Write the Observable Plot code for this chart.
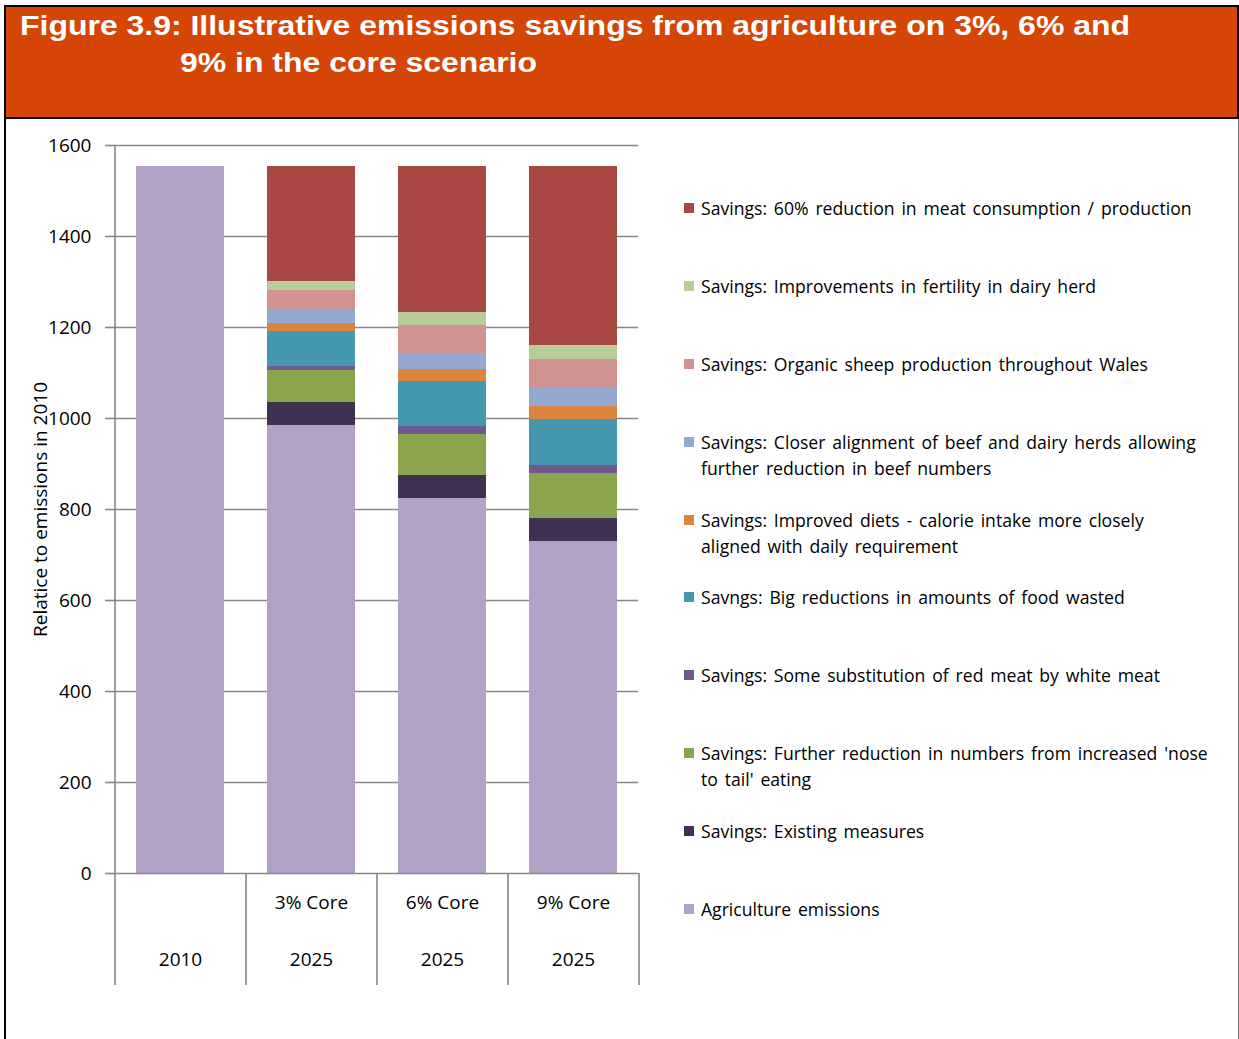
<!DOCTYPE html>
<html><head><meta charset="utf-8">
<script src="https://cdn.jsdelivr.net/npm/d3@7"></script>
<script src="https://cdn.jsdelivr.net/npm/@observablehq/plot@0.6"></script>
<style>
html,body{margin:0;padding:0;background:#fff;}
body{width:1239px;height:1039px;position:relative;overflow:hidden;font-family:"Open Sans",Lato,sans-serif;}
#box{position:absolute;left:4px;top:5px;width:1235px;height:1040px;border-left:2px solid #000;border-right:1px solid #777;box-sizing:border-box;}
#header{position:absolute;left:4px;top:5px;width:1235px;height:114px;background:#D54505;border:2px solid #000;box-sizing:border-box;}
.t{position:absolute;color:#fff;font:bold 28px/28px "Liberation Sans",Arial,sans-serif;white-space:nowrap;transform-origin:0 0;}
#chart{position:absolute;left:0;top:118px;}
#legend{position:absolute;left:684px;top:195px;}
.item{position:relative;height:77.9px;}
.sw{position:absolute;left:0;top:8px;width:10px;height:10px;}
.lab{position:absolute;left:17px;top:0;font-size:17.6px;line-height:26px;word-spacing:2.3px;white-space:pre;color:#000;}
</style>
</head><body>
<div id="box"></div>
<div id="header"></div>
<div class="t" id="t1" style="left:20px;top:12px"></div>
<div class="t" id="t2" style="left:180px;top:49px"></div>
<div id="chart"></div>
<div id="legend"></div>
<script>
const titleLines = ["Figure 3.9: Illustrative emissions savings from agriculture on 3%, 6% and", "9% in the core scenario"];
const yTitle = "Relatice to emissions in 2010";
const categories = ["2010", "3% Core", "6% Core", "9% Core"];
const scenarioLabels = ["", "3% Core", "6% Core", "9% Core"];
const yearLabels = ["2010", "2025", "2025", "2025"];
const yTicks = [0, 200, 400, 600, 800, 1000, 1200, 1400, 1600];
// series, bottom of stack first
const seriesNames = [
  "Agriculture emissions",
  "Savings: Existing measures",
  "Savings: Further reduction in numbers from increased 'nose\nto tail' eating",
  "Savings: Some substitution of red meat by white meat",
  "Savngs: Big reductions in amounts of food wasted",
  "Savings: Improved diets - calorie intake more closely\naligned with daily requirement",
  "Savings: Closer alignment of beef and dairy herds allowing\nfurther reduction in beef numbers",
  "Savings: Organic sheep production throughout Wales",
  "Savings: Improvements in fertility in dairy herd",
  "Savings: 60% reduction in meat consumption / production"
];
const seriesColors = ["#B2A2C7", "#403152", "#8AA54E", "#71588F", "#4398AF", "#DB843D", "#95A9D0", "#D19392", "#B9CD96", "#A94744"];
const agriculture = [1554, 985, 824, 730];
const existing    = [0, 50, 50, 50];
const noseToTail  = [0, 70, 90, 100];
const substitution= [0, 9, 18, 16];
const foodWaste   = [0, 77, 99, 101];
const diets       = [0, 18, 26, 29];
const beefDairy   = [0, 31, 34, 40];
const sheep       = [0, 42, 63, 63];
const fertility   = [0, 19, 29, 31];
const meat        = [0, 253, 321, 394];
const seriesValues = [agriculture, existing, noseToTail, substitution, foodWaste, diets, beefDairy, sheep, fertility, meat];

// title
const t1 = document.getElementById("t1"), t2 = document.getElementById("t2");
t1.textContent = titleLines[0]; t2.textContent = titleLines[1];
const sc = 1110 / t1.getBoundingClientRect().width;
t1.style.transform = `scaleX(${sc})`; t2.style.transform = `scaleX(${sc})`;

const rows = [];
seriesNames.forEach((s, j) => categories.forEach((c, i) => rows.push({category: c, series: s, value: seriesValues[j][i]})));

const W = 640, H = 880, mL = 114, mR = 2, mT = 27, mB = 125;
const step = (W - mL - mR) / categories.length;
const gray = "#868686";
const font = "'Open Sans', Lato, sans-serif";

const chart = Plot.plot({
  width: W, height: H, marginLeft: mL, marginRight: mR, marginTop: mT, marginBottom: mB,
  style: {fontFamily: font, fontSize: "19px", color: "#000", background: "transparent", overflow: "visible"},
  x: {domain: categories, paddingInner: 0.33, paddingOuter: 0.165, axis: null},
  y: {domain: [0, 1600], axis: null},
  color: {domain: seriesNames, range: seriesColors},
  marks: [
    Plot.ruleY(yTicks.filter(t => t > 0), {stroke: gray, strokeWidth: 1.6}),
    Plot.barY(rows, {x: "category", y: "value", fill: "series", order: seriesNames, shapeRendering: "crispEdges"}),
    Plot.ruleY([0], {stroke: gray, strokeWidth: 1.6}),
    Plot.axisY({ticks: yTicks, tickSize: 9, tickFormat: () => "", stroke: gray, strokeWidth: 1.6, label: null}),
    Plot.axisY({ticks: yTicks, tickSize: 0, tickPadding: 23, tickFormat: d => String(d), fill: "#000", label: null}),
    Plot.text([yTitle], {frameAnchor: "left", textAnchor: "middle", dx: -74, rotate: -90, fill: "#000"}),
    Plot.ruleX([categories[0]], {dx: -step / 2, stroke: gray, strokeWidth: 1.6, insetBottom: -112}),
    Plot.ruleX(categories.slice(1), {dx: -step / 2, y1: 0, stroke: gray, strokeWidth: 1.6, insetBottom: -112}),
    Plot.ruleX(categories.slice(-1), {dx: step / 2, y1: 0, stroke: gray, strokeWidth: 1.6, insetBottom: -112}),
    Plot.text(categories, {x: d => d, text: (d, i) => scenarioLabels[i], frameAnchor: "bottom", dy: 35, fill: "#000"}),
    Plot.text(categories, {x: d => d, text: (d, i) => yearLabels[i], frameAnchor: "bottom", dy: 92, fill: "#000"})
  ]
});
document.getElementById("chart").appendChild(chart);

// legend (top of stack first)
const legend = d3.select("#legend");
seriesNames.map((s, j) => ({s, c: seriesColors[j]})).reverse().forEach(({s, c}) => {
  const it = legend.append("div").attr("class", "item");
  it.append("div").attr("class", "sw").style("background", c);
  it.append("div").attr("class", "lab").text(s);
});
</script>
</body></html>
